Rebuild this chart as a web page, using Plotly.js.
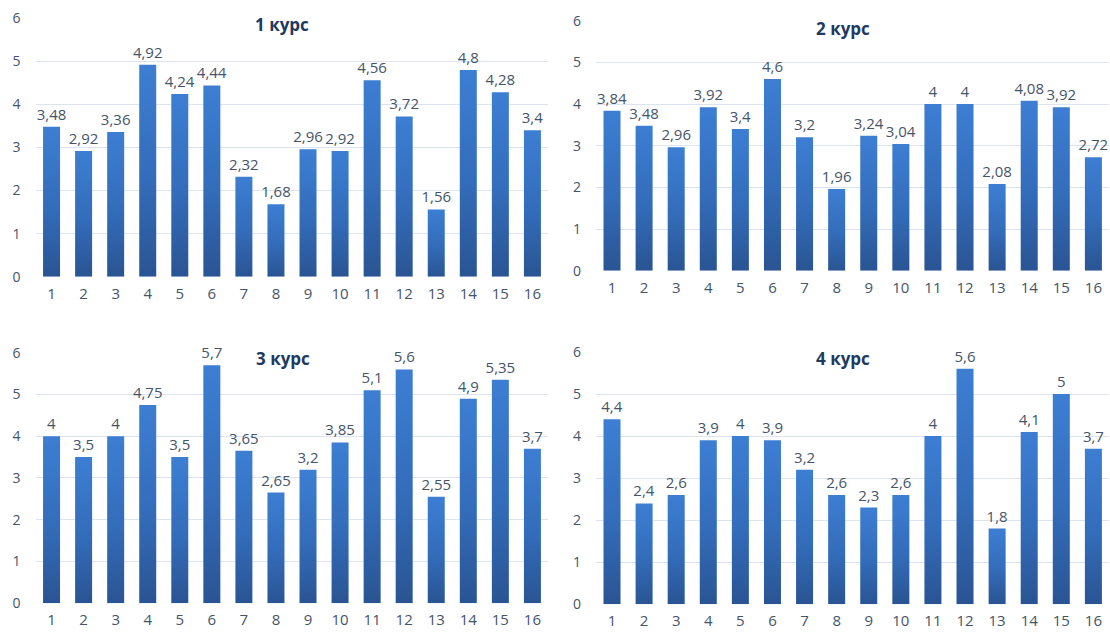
<!DOCTYPE html>
<html>
<head>
<meta charset="utf-8">
<script src="https://cdn.plot.ly/plotly-3.0.1.min.js"></script>
<style>
  html, body { margin: 0; padding: 0; background: #fff; }
  #chart { width: 1110px; height: 635px; }
</style>
</head>
<body>
<div id="chart"></div>
<script>
// Категории (номера по оси X)
const categories = ['1','2','3','4','5','6','7','8','9','10','11','12','13','14','15','16'];

// Значения по курсам
const course1 = [3.48, 2.92, 3.36, 4.92, 4.24, 4.44, 2.32, 1.68, 2.96, 2.92, 4.56, 3.72, 1.56, 4.8, 4.28, 3.4];
const course2 = [3.84, 3.48, 2.96, 3.92, 3.4, 4.6, 3.2, 1.96, 3.24, 3.04, 4, 4, 2.08, 4.08, 3.92, 2.72];
const course3 = [4, 3.5, 4, 4.75, 3.5, 5.7, 3.65, 2.65, 3.2, 3.85, 5.1, 5.6, 2.55, 4.9, 5.35, 3.7];
const course4 = [4.4, 2.4, 2.6, 3.9, 4, 3.9, 3.2, 2.6, 2.3, 2.6, 4, 5.6, 1.8, 4.1, 5, 3.7];

// Заголовки панелей
const titles = ['1 курс', '2 курс', '3 курс', '4 курс'];
const yTicks = [0, 1, 2, 3, 4, 5, 6];

const FONT = '"Open Sans", "DejaVu Sans", sans-serif';
const TICK_COLOR = '#44546A';
const TITLE_COLOR = '#1F3A60';
const GRID_COLOR = '#DCE4F1';

// Подпись значения с запятой в качестве десятичного разделителя
const fmt = v => String(v).replace('.', ',');

const series = [course1, course2, course3, course4];
const traces = series.map((vals, i) => ({
  type: 'bar',
  x: categories,
  y: vals,
  xaxis: i === 0 ? 'x' : 'x' + (i + 1),
  yaxis: i === 0 ? 'y' : 'y' + (i + 1),
  marker: { color: '#3366B0', line: { width: 0 } },
  text: vals.map(fmt),
  textposition: 'outside',
  constraintext: 'none',
  cliponaxis: false,
  textfont: { family: FONT, size: 15, color: TICK_COLOR },
  hoverinfo: 'x+y',
  showlegend: false
}));

// Области панелей (доли от размера полотна)
const xDomLeft = [0.0320, 0.4941];
const xDomRight = [0.5369, 0.9995];
const yDoms = [
  [0.5643, 0.9712],
  [0.5737, 0.9674],
  [0.0499, 0.4446],
  [0.0483, 0.4457]
];

function xAxis(domain, anchor) {
  return {
    domain: domain,
    anchor: anchor,
    type: 'category',
    showgrid: false,
    zeroline: false,
    showline: false,
    ticks: '',
    ticklabelstandoff: 6,
    tickfont: { family: FONT, size: 15, color: TICK_COLOR },
    fixedrange: true
  };
}
function yAxis(domain, anchor) {
  return {
    domain: domain,
    anchor: anchor,
    range: [0, 6],
    tickvals: yTicks,
    ticktext: yTicks.map(String),
    showgrid: true,
    gridcolor: GRID_COLOR,
    gridwidth: 1,
    zeroline: false,
    showline: false,
    ticks: '',
    ticklabelstandoff: 14,
    tickfont: { family: FONT, size: 14, color: TICK_COLOR },
    fixedrange: true
  };
}

const titlePos = [
  { x: 282, y: 24 },
  { x: 843, y: 28 },
  { x: 283, y: 359 },
  { x: 843, y: 358 }
];

const layout = {
  width: 1110,
  height: 635,
  margin: { l: 0, r: 0, t: 0, b: 0 },
  paper_bgcolor: '#ffffff',
  plot_bgcolor: 'rgba(0,0,0,0)',
  bargap: 0.47,
  font: { family: FONT, color: TICK_COLOR },
  xaxis: xAxis(xDomLeft, 'y'),
  yaxis: yAxis(yDoms[0], 'x'),
  xaxis2: xAxis(xDomRight, 'y2'),
  yaxis2: yAxis(yDoms[1], 'x2'),
  xaxis3: xAxis(xDomLeft, 'y3'),
  yaxis3: yAxis(yDoms[2], 'x3'),
  xaxis4: xAxis(xDomRight, 'y4'),
  yaxis4: yAxis(yDoms[3], 'x4'),
  annotations: titles.map((t, i) => ({
    text: '<b>' + t + '</b>',
    xref: 'paper', yref: 'paper',
    x: titlePos[i].x / 1110,
    y: 1 - titlePos[i].y / 635,
    xanchor: 'center', yanchor: 'middle',
    showarrow: false,
    font: { family: FONT, size: 17, color: TITLE_COLOR }
  }))
};

// Вертикальный градиент заливки столбцов
function applyGradient(gd) {
  const svg = gd.querySelector('svg.main-svg');
  if (!svg) return;
  let defs = svg.querySelector('defs');
  if (!defs) {
    defs = document.createElementNS('http://www.w3.org/2000/svg', 'defs');
    svg.insertBefore(defs, svg.firstChild);
  }
  if (!defs.querySelector('#barGrad')) {
    const ns = 'http://www.w3.org/2000/svg';
    const g = document.createElementNS(ns, 'linearGradient');
    g.setAttribute('id', 'barGrad');
    g.setAttribute('x1', '0'); g.setAttribute('y1', '0');
    g.setAttribute('x2', '0'); g.setAttribute('y2', '1');
    [['0%', '#3D7ED3'], ['55%', '#336CB9'], ['100%', '#2A5493']].forEach(([o, c]) => {
      const s = document.createElementNS(ns, 'stop');
      s.setAttribute('offset', o);
      s.setAttribute('stop-color', c);
      g.appendChild(s);
    });
    defs.appendChild(g);
  }
  gd.querySelectorAll('.barlayer .point path').forEach(p => {
    p.style.fill = 'url(#barGrad)';
  });
}

const gd = document.getElementById('chart');
Plotly.newPlot(gd, traces, layout, { displayModeBar: false, staticPlot: true }).then(() => {
  applyGradient(gd);
  gd.on('plotly_afterplot', () => applyGradient(gd));
});
</script>
</body>
</html>
